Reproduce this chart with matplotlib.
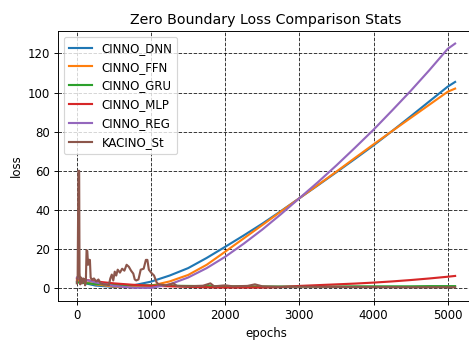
import matplotlib
matplotlib.use("Agg")
import matplotlib.pyplot as plt

# epochs for the smooth model curves
epochs = [0, 250, 500, 750, 1000, 1250, 1500, 1750, 2000, 2250, 2500, 2750,
          3000, 3250, 3500, 3750, 4000, 4250, 4500, 4750, 5000, 5100]

dnn = [3.5, 1.4, 0.7, 1.4, 3.4, 6.5, 10.3, 15.5, 21.2, 27.0, 33.0, 39.4,
       46.0, 52.6, 59.3, 66.1, 73.0, 80.3, 87.8, 95.4, 103.0, 105.4]
ffn = [4.0, 2.0, 0.9, 0.6, 1.3, 3.5, 6.8, 12.0, 18.7, 25.5, 32.3, 39.2,
       46.0, 52.8, 59.6, 66.6, 73.5, 80.3, 87.0, 93.7, 100.4, 102.0]
gru = [3.0, 2.2, 1.8, 1.6, 1.5, 1.3, 1.2, 1.1, 1.0, 1.0, 0.9, 0.9,
       0.9, 0.9, 0.9, 1.0, 1.0, 1.0, 1.0, 1.1, 1.1, 1.1]
mlp = [5.0, 3.5, 2.5, 1.8, 1.3, 1.0, 0.7, 0.5, 0.4, 0.4, 0.4, 0.6,
       1.2, 1.6, 2.0, 2.4, 2.9, 3.5, 4.2, 5.0, 5.9, 6.3]
reg = [5.5, 3.0, 1.2, 0.3, 0.2, 2.0, 5.5, 10.3, 16.1, 22.8, 30.0, 37.8,
       46.0, 54.2, 62.8, 71.8, 81.0, 90.8, 100.8, 111.3, 122.3, 125.0]

# KACINO_St is noisy, so it gets its own epoch list
st_epochs = [0, 10, 20, 30, 35, 45, 55, 70, 85, 100, 110, 120, 130, 140, 150,
             160, 175, 185, 200, 230, 260, 290, 320, 360, 400, 430, 450, 470,
             490, 510, 530, 550, 580, 610, 640, 670, 700, 730, 760, 780, 800,
             830, 860, 900, 930, 950, 970, 1000, 1040, 1075, 1100, 1200, 1300,
             1350, 1500, 1700, 1800, 1850, 2000, 2100, 2300, 2400, 2500, 2700,
             3000, 3500, 4000, 4500, 5000, 5100]
st = [2.5, 6.0, 60.0, 60.0, 8.0, 2.0, 5.5, 2.5, 5.0, 4.5, 1.5, 3.0, 19.5,
      19.0, 12.0, 14.5, 14.5, 5.5, 4.5, 5.0, 3.5, 4.5, 2.5, 2.0, 2.0, 1.5,
      5.0, 7.0, 4.0, 8.5, 6.5, 9.5, 8.0, 10.0, 9.0, 12.0, 11.0, 9.0, 7.5,
      4.5, 4.0, 4.5, 9.5, 10.0, 14.5, 14.5, 9.5, 8.0, 6.5, 3.0, 2.0, 1.5,
      2.5, 1.2, 1.0, 1.3, 2.5, 1.0, 1.5, 1.0, 1.2, 2.0, 1.0, 0.8, 0.8, 0.7,
      0.6, 0.5, 0.5, 0.5]

# lower dpi so text and lines come out a bit smaller, like the reference
fig = plt.figure(figsize=(469 / 85, 340 / 85), dpi=85)
ax = fig.add_axes([0.1237, 0.1147, 0.887, 0.794])

ax.plot(epochs, dnn, color='tab:blue', lw=1.8, label='CINNO_DNN')
ax.plot(epochs, ffn, color='tab:orange', lw=1.8, label='CINNO_FFN')
ax.plot(epochs, gru, color='tab:green', lw=1.8, label='CINNO_GRU')
ax.plot(epochs, mlp, color='tab:red', lw=1.8, label='CINNO_MLP')
ax.plot(epochs, reg, color='tab:purple', lw=1.8, label='CINNO_REG')
ax.plot(st_epochs, st, color='tab:brown', lw=1.8, label='KACINO_St')

ax.set_xlim(-255, 5355)
ax.set_ylim(-6.5, 131.4)
ax.set_xticks([0, 1000, 2000, 3000, 4000, 5000])
ax.set_yticks([0, 20, 40, 60, 80, 100, 120])
ax.grid(True, color='black', linestyle='--', alpha=0.8)
ax.set_title('Zero Boundary Loss Comparison Stats')
ax.set_xlabel('epochs')
ax.set_ylabel('loss')
ax.legend(loc='upper left')

fig.savefig('out.png', dpi=85)
